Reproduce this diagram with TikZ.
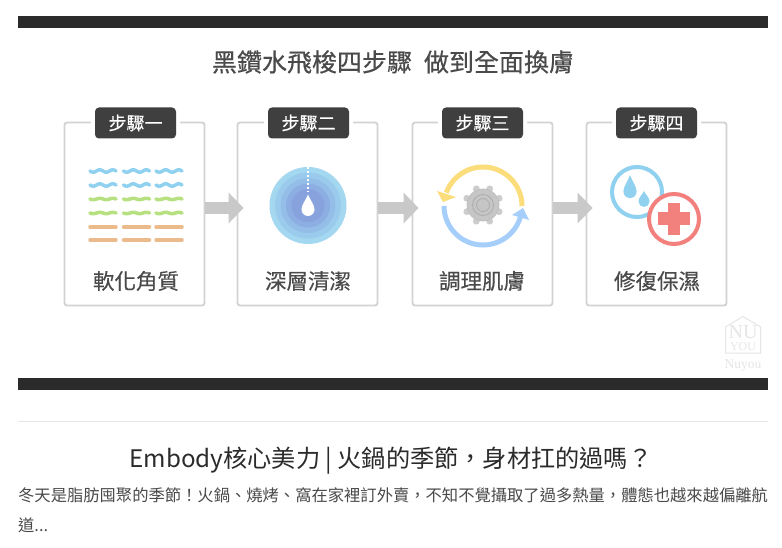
\documentclass[tikz,border=0pt]{standalone}
\usepackage{fontspec}
\setmainfont{Noto Sans CJK TC}
\newfontfamily\logofont{Liberation Serif}
\newfontfamily\titlefont[FakeBold=0.5]{Noto Sans CJK TC}
\newfontfamily\stepfont[FakeBold=0.3]{Noto Sans CJK TC}
\usetikzlibrary{arrows.meta}
\definecolor{barblack}{HTML}{2B2B2B}
\definecolor{inkgrey}{HTML}{4A4A4A}
\definecolor{cardgrey}{HTML}{D2D2D2}
\definecolor{flowgrey}{HTML}{C9C9C9}
\definecolor{logogrey}{HTML}{E6E6E6}
\definecolor{wavesky}{HTML}{8FD1EF}
\definecolor{wavegreen}{HTML}{B7E081}
\definecolor{waveorange}{HTML}{EBBB8C}
\definecolor{sunyellow}{HTML}{FBDD7C}
\definecolor{cycleblue}{HTML}{A6CEFB}
\definecolor{crossred}{HTML}{F2807D}
\tikzset{
  stepcard/.style={draw=cardgrey,line width=1.8pt,rounded corners=2.5pt,fill=white,minimum width=140pt,minimum height=183pt},
  stepbadge/.style={fill=inkgrey!85!black,text=white,rounded corners=4pt,minimum width=81pt,minimum height=31pt,inner sep=0pt,font=\stepfont\fontsize{18}{18}\selectfont,preaction={draw=white,line width=8pt}},
  steplabel/.style={text=inkgrey,inner sep=0pt,font=\stepfont\fontsize{21.5}{22}\selectfont},
  stepflow/.style={draw=flowgrey,line width=12pt,-{Triangle[length=15pt,width=30pt]}},
  wave/.style={line width=3.5pt,line cap=round},
  ring/.style={line width=4pt,fill=white}
}
\newcommand{\stepbox}[6]{\node[stepcard] (card#1) at (#2,214) {};
  \node[stepbadge] (badge#1) at (#3,123) {#5};
  \node[steplabel] (label#1) at (#4,281) {#6};}
\newcommand{\waverow}[4]{\foreach \xs in {90,123.5,156}
  \draw[wave,#2] plot[domain=0:26,samples=27,smooth] ({\xs+\x},{#1+#3*sin(\x*#4)});}
\newcommand{\waterdrop}[5]{\fill[#5] (#1,#2-#4) .. controls ({#1+.35*#3},{#2-.6*#4}) and ({#1+#3},{#2-.75*#3}) .. ({#1+#3},#2)
  arc (0:180:#3) .. controls ({#1-#3},{#2-.75*#3}) and ({#1-.35*#3},{#2-.6*#4}) .. (#1,#2-#4) -- cycle;}

\begin{document}
\begin{tikzpicture}[x=1pt,y=-1pt]
    \useasboundingbox[fill=white] (0,0) rectangle (782,548);
    \fill[barblack] (18,16) rectangle (768,28); \fill[barblack] (18,378) rectangle (768,390);
    \node[text=inkgrey,inner sep=0pt,font=\titlefont\fontsize{25}{25}\selectfont] (title) at (393,62) {黑鑽水飛梭四步驟\hspace{12pt}做到全面換膚};

    \stepbox{1}{134.5}{135.5}{136}{步驟一}{軟化角質}
    \stepbox{2}{307.5}{308.5}{308}{步驟二}{深層清潔}
    \stepbox{3}{482.5}{482.5}{482}{步驟三}{調理肌膚}
    \stepbox{4}{656.5}{656.5}{657}{步驟四}{修復保濕}
    \draw[stepflow,shorten >=-7pt] (card1.east |- 0,208) -- (card2.west |- 0,208);
    \draw[stepflow,shorten >=-7pt] (card2.east |- 0,208) -- (card3.west |- 0,208);
    \draw[stepflow,shorten >=-7pt] (card3.east |- 0,208) -- (card4.west |- 0,208);

    \waverow{171}{wavesky}{1.2}{27.7} \waverow{185}{wavesky}{1.2}{27.7}
    \waverow{199}{wavegreen}{.7}{27.7} \waverow{213}{wavegreen}{.7}{27.7}
    \waverow{227}{waveorange}{0}{27.7} \waverow{240}{waveorange}{0}{27.7}

    \fill[color={rgb,255:red,163;green,216;blue,240}] (308,205.5) circle (38.5);
    \fill[color={rgb,255:red,155;green,203;blue,236}] (308,205.5) circle (33);
    \fill[color={rgb,255:red,148;green,189;blue,231}] (308,205.5) circle (27.5);
    \fill[color={rgb,255:red,141;green,174;blue,226}] (308,205.5) circle (22);
    \fill[color={rgb,255:red,136;green,162;blue,221}] (308,205.5) circle (16.5);
    \draw[white,line width=1.1pt,dash pattern=on 2.5pt off 1.5pt] (308,167) -- (308,192);
    \waterdrop{308}{209.5}{6.5}{15}{white}

    \foreach \a in {22.5,67.5,...,360} \fill[gray!40] (483,205) ++(\a:17.5) circle (3.4);
    \filldraw[fill=gray!45,draw=gray!50,line width=.8pt] (483,205) circle (16);
    \draw[gray!65,line width=.8pt] (483,205) circle (10.5) (483,205) circle (6.5);
    \draw[sunyellow,line width=5pt] (522,206) arc (0:-160:39);
    \fill[sunyellow] (437,191) -- (456,197) -- (443,202) -- cycle;
    \draw[cycleblue,line width=5pt] (444,206) arc (180:8:39);
    \fill[cycleblue] (529,220) -- (512,215) -- (523,208) -- cycle;

    \draw[ring,draw=wavesky] (637,192) circle (25);
    \waterdrop{630}{191.5}{6.6}{16.5}{wavesky}
    \waterdrop{644}{201.5}{5.5}{10.5}{wavesky}
    \draw[ring,draw=crossred] (674,219) circle (25);
    \fill[crossred] (658,212.5) rectangle (690,225.5); \fill[crossred] (668,203) rectangle (679.5,235);

    \draw[logogrey,line width=1pt] (725.5,353) -- (725.5,327) -- (743,316.5) -- (760.5,327) -- (760.5,353) -- cycle;
    \node[text=logogrey,inner sep=0pt,font=\logofont\fontsize{20}{20}\selectfont] (logoNU) at (743,332.5) {NU};
    \node[text=logogrey,inner sep=0pt,font=\logofont\fontsize{12}{12}\selectfont] (logoYOU) at (743,347) {YOU};
    \node[text=logogrey,inner sep=0pt,font=\logofont\fontsize{13.5}{13}\selectfont] (logoname) at (743,366) {Nuyou};

    \draw[logogrey,line width=1pt] (18,421) -- (768,421);
    \node[text=barblack,inner sep=0pt,font=\fontsize{24.2}{24}\selectfont] (heading) at (391,461) {Embody核心美力 | 火鍋的季節，身材扛的過嗎？};
    \node[text=inkgrey,inner sep=0pt,anchor=west,align=left,font=\fontsize{16.3}{30}\selectfont] (teaser) at (18,510) {冬天是脂肪囤聚的季節！火鍋、燒烤、窩在家裡訂外賣，不知不覺攝取了過多熱量，體態也越來越偏離航\\道...};
\end{tikzpicture}
\end{document}
